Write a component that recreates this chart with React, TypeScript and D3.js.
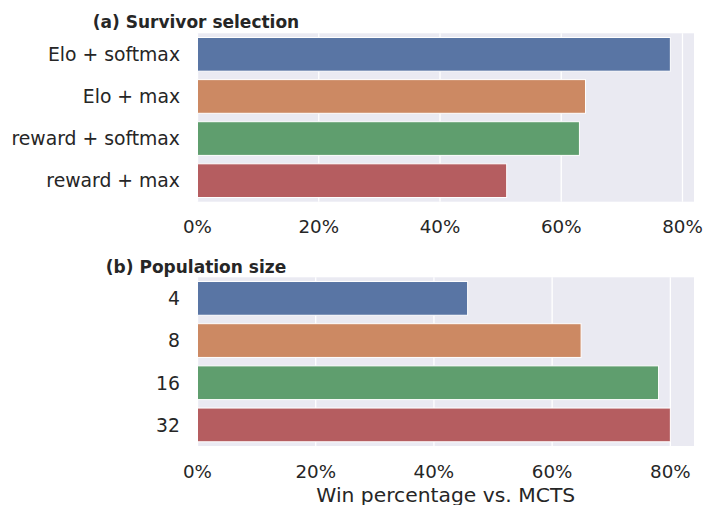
import React from "react";
import * as d3 from "d3";

// Panel (a): survivor selection strategies
const selectionLabels = ["Elo + softmax", "Elo + max", "reward + softmax", "reward + max"];
const selectionWins = [78, 64, 63, 51];

// Panel (b): population size
const populationLabels = ["4", "8", "16", "32"];
const populationWins = [45.7, 64.9, 78, 80];

const tickValues = [0, 20, 40, 60, 80];
const barColors = ["#5975A4", "#CC8963", "#5F9E6E", "#B55D60"];

const W = 704;
const H = 505;
const FONT = "DejaVu Sans, sans-serif";
const TEXT = "#262626";

type PanelProps = {
  title: string;
  labels: string[];
  values: number[];
  top: number;
  bottom: number;
  titleY: number;
  tickY: number;
};

function Panel({ title, labels, values, top, bottom, titleY, tickY }: PanelProps) {
  const left = 197.5;
  const right = 694;
  const x = d3
    .scaleLinear()
    .domain([0, (d3.max(values) as number) * 1.05])
    .range([left, right]);
  const y = d3
    .scaleBand<string>()
    .domain(labels)
    .range([top, bottom])
    .paddingInner(0.2)
    .paddingOuter(0.1);

  return (
    <g>
      <rect x={left} y={top} width={right - left} height={bottom - top} fill="#EAEAF2" />
      {tickValues.map((t) => (
        <line
          key={"g" + t}
          x1={x(t)}
          x2={x(t)}
          y1={top}
          y2={bottom}
          stroke="#ffffff"
          strokeWidth={1.3}
        />
      ))}
      {labels.map((lab, i) => (
        <rect
          key={"b" + lab}
          x={x(0)}
          y={y(lab) as number}
          width={x(values[i]) - x(0)}
          height={y.bandwidth()}
          fill={barColors[i]}
          stroke="#ffffff"
          strokeWidth={1}
        />
      ))}
      {labels.map((lab) => (
        <text
          key={"l" + lab}
          x={180}
          y={(y(lab) as number) + y.bandwidth() / 2}
          dy="0.36em"
          textAnchor="end"
          fontFamily={FONT}
          fontSize={18.8}
          fill={TEXT}
        >
          {lab}
        </text>
      ))}
      {tickValues.map((t) => (
        <text
          key={"t" + t}
          x={x(t)}
          y={tickY}
          textAnchor="middle"
          fontFamily={FONT}
          fontSize={18.3}
          fill={TEXT}
        >
          {d3.format("d")(t) + "%"}
        </text>
      ))}
      <text
        x={196}
        y={titleY}
        textAnchor="middle"
        fontFamily={FONT}
        fontSize={17}
        fontWeight="bold"
        fill={TEXT}
      >
        {title}
      </text>
    </g>
  );
}

export default function App() {
  return (
    <svg width={W} height={H} style={{ position: "absolute", left: 0, top: 0, background: "#fff" }}>
      <Panel
        title="(a) Survivor selection"
        labels={selectionLabels}
        values={selectionWins}
        top={33.3}
        bottom={201.7}
        titleY={28}
        tickY={233}
      />
      <Panel
        title="(b) Population size"
        labels={populationLabels}
        values={populationWins}
        top={277.3}
        bottom={446}
        titleY={273}
        tickY={478}
      />
      <text
        x={445.75}
        y={502}
        textAnchor="middle"
        fontFamily={FONT}
        fontSize={20.3}
        fill={TEXT}
      >
        Win percentage vs. MCTS
      </text>
    </svg>
  );
}
